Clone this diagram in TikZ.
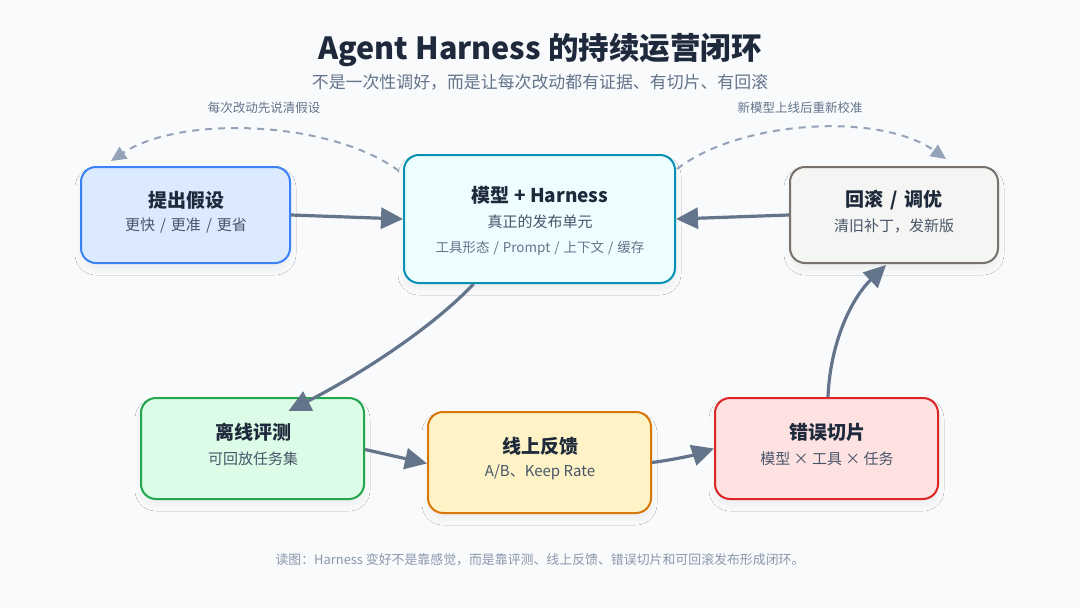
\documentclass[tikz,border=0pt]{standalone}
\usepackage{fontspec}
\setmainfont{Noto Sans CJK SC}
\usetikzlibrary{arrows.meta,calc,shadows.blur}
\definecolor{bg}{HTML}{F8FAFC}
\definecolor{ink}{HTML}{1E293B}
\definecolor{subink}{HTML}{475569}
\definecolor{grayink}{HTML}{64748B}
\definecolor{footink}{HTML}{8A97AB}
\definecolor{arrowc}{HTML}{64748B}
\definecolor{dashc}{HTML}{94A3B8}
\definecolor{hypB}{HTML}{3B82F6}\definecolor{hypF}{HTML}{DBEAFE}
\definecolor{coreB}{HTML}{0891B2}\definecolor{coreF}{HTML}{ECFEFF}
\definecolor{rbB}{HTML}{78716C}\definecolor{rbF}{HTML}{F5F5F4}
\definecolor{evB}{HTML}{22A84A}\definecolor{evF}{HTML}{DCFCE7}
\definecolor{onB}{HTML}{D97706}\definecolor{onF}{HTML}{FEF3C7}
\definecolor{erB}{HTML}{DC2626}\definecolor{erF}{HTML}{FEE2E2}
\newcommand{\sepsl}[1]{\hspace{#1}/\hspace{#1}}
\tikzset{
  box/.style={draw, line width=2pt, rounded corners=15pt, inner sep=0pt,
    blur shadow={shadow xshift=0pt, shadow yshift=-6pt, shadow blur radius=6pt, shadow blur steps=12, shadow opacity=5}},
  ttl/.style={font=\fontsize{19}{21}\selectfont\bfseries, text=ink, inner sep=0pt},
  sub/.style={font=\fontsize{15}{17}\selectfont, text=subink, inner sep=0pt},
  tiny/.style={font=\fontsize{13.5}{15}\selectfont, text=grayink, inner sep=0pt},
  flow/.style={draw=arrowc, line width=3.2pt, -{Triangle[length=22pt,width=21pt]}},
  dflow/.style={draw=dashc, line width=2pt, dash pattern=on 7pt off 6pt, -{Triangle[length=15pt,width=14pt]}},
  note/.style={font=\fontsize{12.5}{14}\selectfont, text=grayink, inner sep=0pt}
}
\begin{document}
\begin{tikzpicture}[x=1pt,y=-1pt]
\useasboundingbox (0,0) rectangle (1080,608);
\fill[bg] (0,0) rectangle (1080,608);

\node[inner sep=0pt, font=\fontsize{30.5}{34}\selectfont\bfseries, text=ink] (title) at (540,50) {Agent Harness 的持续运营闭环};
\node[inner sep=0pt, font=\fontsize{16.9}{19}\selectfont, text=grayink] (subtitle) at (540,82) {不是一次性调好，而是让每次改动都有证据、有切片、有回滚};

% boxes
\node[box, draw=hypB, fill=hypF, minimum width=209pt, minimum height=96pt] (hyp) at (185.5,215) {};
\node[box, draw=coreB, fill=coreF, minimum width=271pt, minimum height=128pt] (core) at (539.5,219) {};
\node[box, draw=rbB, fill=rbF, minimum width=208pt, minimum height=96pt] (rb) at (894,215) {};
\node[box, draw=evB, fill=evF, minimum width=223pt, minimum height=101pt] (ev) at (252.5,448.5) {};
\node[box, draw=onB, fill=onF, minimum width=223pt, minimum height=101pt] (on) at (539.5,462.5) {};
\node[box, draw=erB, fill=erF, minimum width=223pt, minimum height=101pt] (er) at (826.5,448.5) {};

% texts
\node[ttl] (hypT) at (186,200) {提出假设};
\node[sub] (hypS) at (186,226) {更快\sepsl{5pt}更准\sepsl{5pt}更省};
\node[ttl] (coreT) at (540,195) {模型 + Harness};
\node[sub] (coreS) at (540,222) {真正的发布单元};
\node[tiny] (coreX) at (540,248) {工具形态\sepsl{4pt}Prompt\sepsl{4pt}上下文\sepsl{4pt}缓存};
\node[ttl] (rbT) at (894,200) {回滚\sepsl{7pt}调优};
\node[sub] (rbS) at (894,226) {清旧补丁，发新版};
\node[ttl] (evT) at (253,432) {离线评测};
\node[sub] (evS) at (253,459) {可回放任务集};
\node[ttl] (onT) at (540,446) {线上反馈};
\node[sub] (onS) at (540,472) {A/B、Keep Rate};
\node[ttl] (erT) at (827,432) {错误切片};
\node[sub] (erS) at (827,459) {模型 × 工具 × 任务};

% solid connectors
\draw[flow] (hyp.east) -- (core.west);
\draw[flow] (rb.west) -- (core.east);
\draw[flow] ($(core.south)+(-66,0)$) .. controls (435,325) and (365,372) .. ($(ev.north)+(36,14)$);
\draw[flow] ($(ev.east)+(0,1)$) -- ($(on.west)+(0,1)$);
\draw[flow] ($(on.east)+(0,0)$) .. controls (672,460) and (694,455) .. ($(er.west)+(0,0)$);
\draw[flow] ($(er.north)+(1.5,0)$) .. controls (830,345) and (850,300) .. ($(rb.south)+(-8,1)$);

% dashed connectors
\coordinate (dl0) at ($(core.north west)+(-4,17)$);
\coordinate (dl1) at ($(hyp.north west)+(31,-5)$);
\draw[dflow] (dl0) .. controls (330,120) and (180,115) .. (dl1);
\coordinate (dr0) at ($(core.north east)+(1,15)$);
\coordinate (dr1) at ($(rb.north east)+(-53,-7)$);
\draw[dflow] (dr0) .. controls (740,120) and (880,112) .. (dr1);

\node[note] (nl) at (264,108) {每次改动先说清假设};
\node[note] (nr) at (800,108) {新模型上线后重新校准};

\node[inner sep=0pt, font=\fontsize{12.9}{15}\selectfont, text=footink] (foot) at (540,560) {读图：Harness 变好不是靠感觉，而是靠评测、线上反馈、错误切片和可回滚发布形成闭环。};
\end{tikzpicture}
\end{document}
